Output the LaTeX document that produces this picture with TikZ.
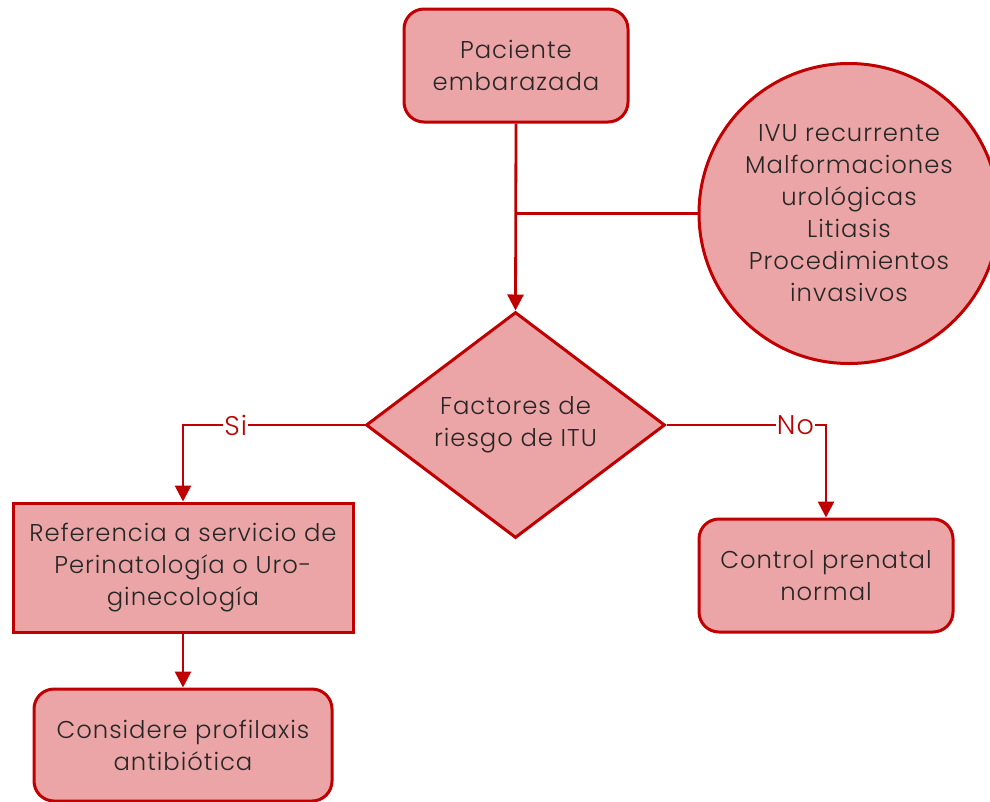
\documentclass[tikz,border=0pt]{standalone}
\usepackage{fontspec}
\setmainfont{Poppins Light}[LetterSpace=4]
\usetikzlibrary{shapes.geometric,arrows.meta}
\definecolor{fillp}{HTML}{EBA5A6}
\definecolor{strk}{HTML}{C00000}
\definecolor{txt}{HTML}{262626}
\begin{document}
\begin{tikzpicture}[x=1pt,y=-1pt,
  base/.style={draw=strk,fill=fillp,line width=3pt,text=txt,align=center,
    font=\fontsize{24.3}{32}\selectfont,inner sep=0pt},
  rbox/.style={base,rounded corners=20pt},
  sbox/.style={base},
  conn/.style={draw=strk,line width=2.8pt},
  arr/.style={conn,-{Triangle[width=16pt,length=16pt]}},
  lbl/.style={fill=white,text=strk,font=\fontsize{27}{28}\selectfont,inner sep=1pt}]
\useasboundingbox (0,0) rectangle (990,801);
\begin{scope}
\clip (0,0) rectangle (990,801);
\node[base,circle,minimum size=300pt] (risk) at (849,213.5) {IVU recurrente\\Malformaciones\\urológicas\\Litiasis\\Procedimientos\\invasivos};
\end{scope}
\node[rbox,minimum width=224pt,minimum height=113pt] (pac) at (516,65.5) {Paciente\\embarazada};
\node[base,diamond,minimum width=299pt,minimum height=226pt,aspect=1.32] (fac) at (515.5,425) {Factores de\\riesgo de ITU};
\node[sbox,minimum width=340pt,minimum height=129pt] (ref) at (183,567.5) {Referencia a servicio de\\Perinatología o Uro-\\ginecología};
\node[rbox,minimum width=298pt,minimum height=112pt] (con) at (183,745) {Considere profilaxis\\antibiótica};
\node[rbox,minimum width=254pt,minimum height=113pt] (ctl) at (826,575.5) {Control prenatal\\normal};
\coordinate (j) at (pac.south |- risk.west);
\draw[arr] (pac.south) -- (fac.north);
\draw[conn] (risk.west) -- (j);
\draw[arr] (fac.west) -| node[lbl,pos=0.355] {Si} (ref.north);
\draw[arr] (fac.east) -| node[lbl,pos=0.404] {No} (ctl.north);
\draw[arr] (ref.south) -- (con.north);
\end{tikzpicture}
\end{document}
